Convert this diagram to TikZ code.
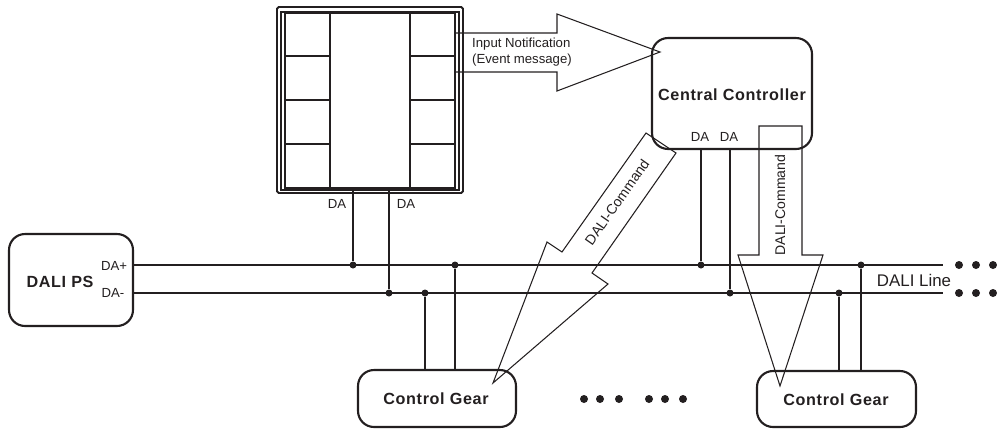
\documentclass[tikz,border=0pt]{standalone}
\usepackage{fontspec}
\setmainfont{Liberation Sans}
\newfontfamily\headfont{Liberation Sans}[LetterSpace=4]
\usetikzlibrary{calc}
\definecolor{inkline}{HTML}{231F20}
\tikzset{
  devbox/.style={draw=inkline,line width=1.2pt,rounded corners=0.32cm,inner sep=0pt},
  devtext/.style={font=\headfont\bfseries\fontsize{9.2}{11}\selectfont,text=inkline},
  smalltext/.style={font=\fontsize{7.5}{9.3}\selectfont,text=inkline,inner sep=0pt},
  cmdtext/.style={font=\fontsize{8}{10}\selectfont,text=inkline,inner sep=0pt},
  rail/.style={draw=inkline,line width=0.9pt},
  wire/.style={draw=inkline,line width=0.9pt},
  flow/.style={draw=inkline,line width=0.6pt,line join=miter},
  junction/.style={circle,fill=inkline,inner sep=0pt,minimum size=0.14cm},
  moredot/.style={circle,fill=inkline,inner sep=0pt,minimum size=0.16cm}
}
\begin{document}
\begin{tikzpicture}[x=0.02cm,y=-0.02cm]
    \useasboundingbox (0,0) rectangle (997,430);

    % devices
    \node[devbox,minimum width=2.48cm,minimum height=1.84cm] (dalips) at (71,280) {};
    \node[devbox,minimum width=3.2cm,minimum height=2.22cm] (controller) at (732,93.5) {};
    \node[devbox,minimum width=3.16cm,minimum height=1.14cm] (geara) at (437,398.5) {};
    \node[devbox,minimum width=3.18cm,minimum height=1.12cm] (gearb) at (836.5,399) {};
    \node[devtext] (dalipstext) at (60,282) {DALI PS};
    \node[devtext] (controllertext) at (732,95) {Central Controller};
    \node[devtext] (gearatext) at (436,399) {Control Gear};
    \node[devtext] (gearbtext) at (836,400) {Control Gear};

    % panel
    \draw[inkline,line width=1.1pt,rounded corners=1pt] (277,7) rectangle (463,193);
    \draw[inkline,line width=1.1pt] (281,12) rectangle (459,190);
    \node[draw=inkline,line width=0.7pt,minimum width=3.4cm,minimum height=3.5cm,inner sep=0pt] (panel) at (370,100.5) {};
    \draw[inkline,line width=1pt] (330,13) -- (330,188);
    \draw[inkline,line width=1pt] (410,13) -- (410,188);
    \foreach \y in {56,100,144} {
        \draw[inkline,line width=1pt] (285,\y) -- (330,\y);
        \draw[inkline,line width=1pt] (410,\y) -- (455,\y);
    }

    % rails
    \coordinate (railaend) at (943,265);
    \coordinate (railbend) at (943,293);
    \draw[rail] (dalips.east |- railaend) -- (railaend);
    \draw[rail] (dalips.east |- railbend) -- (railbend);
    \foreach \x in {959,976,993} {
        \node[moredot] (morea\x) at (\x,265) {};
        \node[moredot] (moreb\x) at (\x,293) {};
    }
    \foreach \x in {584,600,619,649,665,683} {
        \node[moredot] (moregear\x) at (\x,399) {};
    }

    % junctions and wires
    \node[junction] (pana) at (353,265) {};
    \node[junction] (panb) at (389,293) {};
    \node[junction] (gaa) at (425,293) {};
    \node[junction] (gab) at (455,265) {};
    \node[junction] (cona) at (701,265) {};
    \node[junction] (conb) at (730,293) {};
    \node[junction] (gba) at (839,293) {};
    \node[junction] (gbb) at (861,265) {};
    \draw[wire] (pana) -- (pana |- panel.south);
    \draw[wire] (panb) -- (panb |- panel.south);
    \draw[wire] (gaa) -- (gaa |- geara.north);
    \draw[wire] (gab) -- (gab |- geara.north);
    \draw[wire] (cona) -- (cona |- controller.south);
    \draw[wire] (conb) -- (conb |- controller.south);
    \draw[wire] (gba) -- (gba |- gearb.north);
    \draw[wire] (gbb) -- (gbb |- gearb.north);

    % big arrows
    \draw[flow] (455,33) -- (557,33) -- (557,14) -- (660,52) -- (557,91) -- (557,72) -- (455,72);
    \draw[flow] (646,133) -- (676,153) -- (592,273) -- (608,284) -- (493,383) -- (547,242) -- (562,252) -- cycle;
    \draw[flow] (759,126) -- (802,126) -- (802,255) -- (823,255) -- (780,386) -- (738,255) -- (759,255) -- cycle;

    % labels
    \node[smalltext,align=left] (notify) at (522,52) {Input Notification\\(Event message)};
    \node[cmdtext,rotate=55] (cmda) at (617,202) {DALI-Command};
    \node[cmdtext,rotate=90] (cmdb) at (780,205) {DALI-Command};
    \node[smalltext] (daa) at (337,204) {DA};
    \node[smalltext] (dab) at (406,204) {DA};
    \node[smalltext] (dac) at (700,137) {DA};
    \node[smalltext] (dad) at (729,137) {DA};
    \node[smalltext] (daplus) at (114,266) {DA+};
    \node[smalltext] (daminus) at (113,293) {DA-};
    \node[font=\fontsize{9.6}{11}\selectfont,text=inkline,inner sep=0pt] (line) at (914,280) {DALI Line};
\end{tikzpicture}
\end{document}
